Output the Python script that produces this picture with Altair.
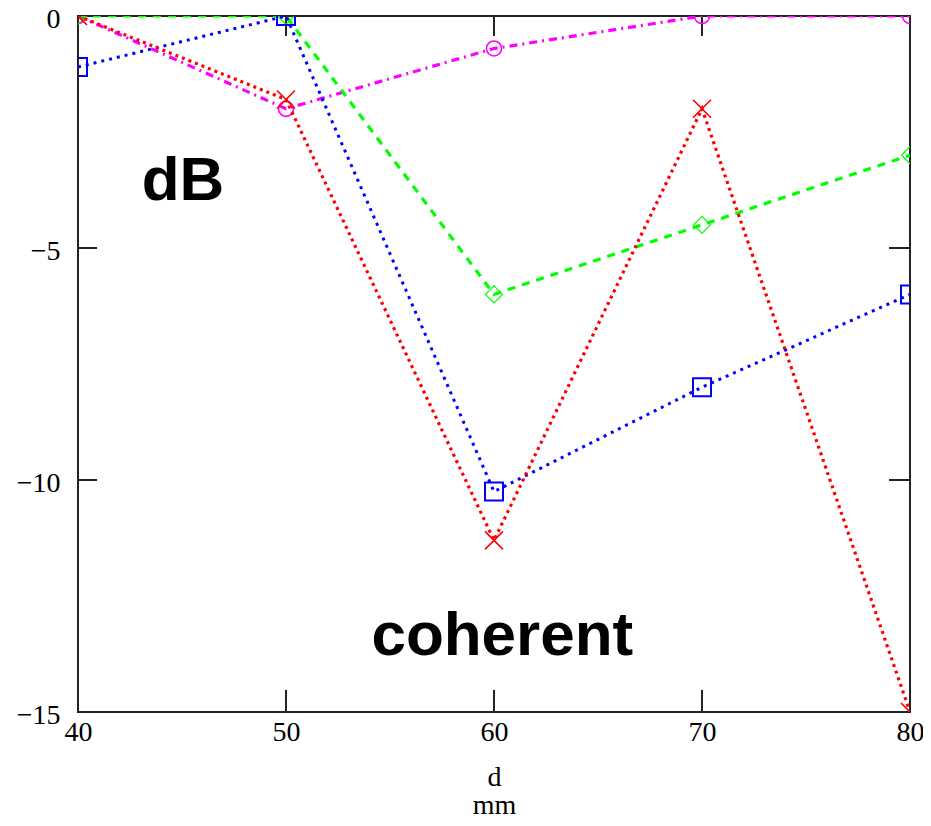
import altair as alt
import pandas as pd

# ---- data ----
d_mm = [40, 50, 60, 70, 80]
red_db = [0.0, -1.8, -11.3, -2.0, -15.0]
blue_db = [-1.1, 0.0, -10.25, -8.0, -6.0]
green_db = [0.0, 0.0, -6.0, -4.5, -3.0]
magenta_db = [0.0, -2.0, -0.7, 0.0, 0.0]

x_ticks = [40, 50, 60, 70, 80]
y_ticks = [0, -5, -10, -15]
inner_x_ticks = [50, 60, 70]
inner_y_ticks = [-5, -10]

notes_text = ["dB", "coherent"]
notes_x = [45.05, 60.4]
notes_y = [-3.97, -13.77]

W, H = 832, 696

xs = alt.Scale(domain=[40, 80], nice=False, zero=False)
ys = alt.Scale(domain=[-15, 0], nice=False, zero=False)

xaxis = alt.Axis(values=x_ticks, grid=False, ticks=False, tickSize=0, domain=False,
                 labelFlush=False, labelFont="Liberation Serif", labelFontSize=28,
                 labelColor="black", labelPadding=6,
                 title=["d", "mm"], titleFont="Liberation Serif", titleFontSize=28,
                 titleFontWeight="normal", titleColor="black", titleLineHeight=28,
                 titleBaseline="alphabetic", titleY=73)
yaxis = alt.Axis(values=y_ticks, grid=False, ticks=False, tickSize=0, domain=False,
                 labelFlush=False, labelFont="Liberation Serif", labelFontSize=28,
                 labelColor="black", labelPadding=18, labelBaseline="alphabetic",
                 labelOffset=11, title=None)


def series(vals, color, dash, width, shape, size, mstroke):
    df = pd.DataFrame({"d": d_mm, "v": vals})
    base = alt.Chart(df)
    line = base.mark_line(color=color, strokeDash=dash, strokeWidth=width, clip=True).encode(
        x=alt.X("d:Q", scale=xs, axis=xaxis),
        y=alt.Y("v:Q", scale=ys, axis=yaxis),
    )
    pts = base.mark_point(shape=shape, size=size, color=color, filled=False,
                          strokeWidth=mstroke, opacity=1, clip=True).encode(
        x=alt.X("d:Q", scale=xs),
        y=alt.Y("v:Q", scale=ys),
    )
    return line + pts


red = series(red_db, "#FF0000", [3, 4], 3.2, "M-1,-1L1,1M1,-1L-1,1", 324, 1.6)
blue = series(blue_db, "#0000FF", [3, 5], 3, "square", 324, 2)
green = series(green_db, "#00FF00", [8, 7], 3.2, "diamond", 289, 1.2)
magenta = series(magenta_db, "#FF00FF", [8, 5, 2, 5], 3.2, "circle", 227, 1.6)

# inward tick marks
yt = pd.DataFrame({"v": inner_y_ticks})
xt = pd.DataFrame({"d": inner_x_ticks})
left_ticks = alt.Chart(yt).mark_rule(color="#222", strokeWidth=2).encode(
    y=alt.Y("v:Q", scale=ys), x=alt.value(0), x2=alt.value(19))
right_ticks = alt.Chart(yt).mark_rule(color="#222", strokeWidth=2).encode(
    y=alt.Y("v:Q", scale=ys), x=alt.value(W - 21), x2=alt.value(W))
bottom_ticks = alt.Chart(xt).mark_rule(color="#222", strokeWidth=2).encode(
    x=alt.X("d:Q", scale=xs), y=alt.value(H), y2=alt.value(H - 22))
top_ticks = alt.Chart(xt).mark_rule(color="#222", strokeWidth=2).encode(
    x=alt.X("d:Q", scale=xs), y=alt.value(0), y2=alt.value(20))

notes = alt.Chart(pd.DataFrame({"t": notes_text, "x": notes_x, "y": notes_y})).mark_text(
    font="Liberation Sans", fontWeight="bold", fontSize=62, color="black",
    align="center", baseline="alphabetic").encode(
    x=alt.X("x:Q", scale=xs), y=alt.Y("y:Q", scale=ys), text="t:N")

chart = alt.layer(
    left_ticks, right_ticks, bottom_ticks, top_ticks,
    magenta, green, blue, red, notes
).properties(
    width=W, height=H,
    autosize=alt.AutoSizeParams(type="none"),
    padding={"left": 70, "top": 8, "right": 13, "bottom": 106},
    background="white",
).configure_view(stroke="#222", strokeWidth=2)

chart.save("out.html", embed_options={"renderer": "svg", "actions": False})
